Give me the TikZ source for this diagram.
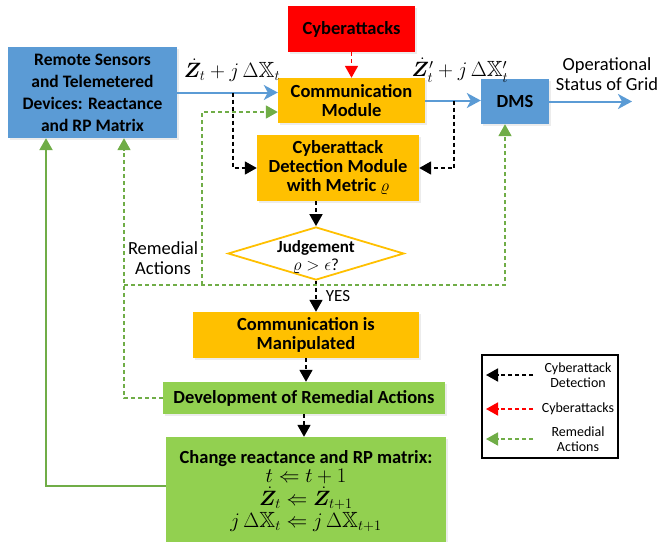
\documentclass[tikz,border=0pt]{standalone}
\usepackage{amsmath,amssymb,bm}
\usepackage{fontspec}
\setmainfont{Carlito}
\usetikzlibrary{arrows.meta,shapes.geometric,shadows}
\definecolor{sblue}{HTML}{5B9BD5}
\definecolor{sorange}{HTML}{FFC000}
\definecolor{sgreen}{HTML}{92D050}
\definecolor{lgreen}{HTML}{70AD47}
\tikzset{
  box/.style={align=center,inner sep=0pt,font=\fontsize{18.5}{19}\selectfont\bfseries,
    drop shadow={opacity=0.15,shadow xshift=1.5pt,shadow yshift=-1.5pt}},
  judge/.style={diamond,draw=sorange,line width=1.8pt,fill=white,inner sep=0pt,
    minimum width=176pt,minimum height=53pt},
  plaintext/.style={align=center,inner sep=0pt,font=\fontsize{18.5}{19.5}\selectfont},
  mathtext/.style={inner sep=0pt,font=\fontsize{22}{24}\selectfont},
  legtext/.style={align=center,inner sep=0pt,font=\fontsize{14}{15.5}\selectfont},
  blueline/.style={sblue,line width=2pt,-{Stealth[length=14pt,width=15pt,inset=4pt]}},
  blackdash/.style={black,line width=1.8pt,dash pattern=on 4pt off 3pt,-{Triangle[length=12pt,width=13pt]}},
  reddash/.style={red,line width=1.8pt,dash pattern=on 4pt off 3pt,-{Triangle[length=12pt,width=13pt]}},
  greendash/.style={lgreen,line width=1.8pt,dash pattern=on 4pt off 3pt,-{Triangle[length=12pt,width=13pt]}},
  greensolid/.style={lgreen,line width=2.2pt,-{Triangle[length=12pt,width=13pt]}}
}
\begin{document}
\begin{tikzpicture}[x=1pt,y=-1pt]
\useasboundingbox (0,0) rectangle (661,541);
\node[box,fill=sblue,minimum width=169pt,minimum height=91pt,font=\fontsize{17.5}{22}\selectfont\bfseries] (rs) at (92.5,92.5)
  {Remote Sensors\\and Telemetered\\Devices: Reactance\\and RP Matrix};
\node[box,fill=red,minimum width=127pt,minimum height=46pt] (cyber) at (351.5,29) {Cyberattacks};
\node[box,fill=sorange,minimum width=147pt,minimum height=45pt] (comm) at (351.5,100.5) {Communication\\Module};
\node[box,fill=sblue,minimum width=68pt,minimum height=45pt] (dms) at (515,101.5) {DMS};
\node[box,fill=sorange,minimum width=162pt,minimum height=66pt] (det) at (338,168)
  {Cyberattack\\Detection Module\\with Metric $\varrho$};
\node[judge,label={[align=center,inner sep=0pt,yshift=-4pt,font=\fontsize{17}{18}\selectfont]center:{\textbf{Judgement}\\$\varrho>\epsilon$?}}] (dia) at (316,253.5) {};
\node[box,fill=sorange,minimum width=226pt,minimum height=46pt] (manip) at (306,335) {Communication is\\Manipulated};
\node[box,fill=sgreen,minimum width=282pt,minimum height=32pt] (dev) at (304,398) {Development of Remedial Actions};
\node[box,fill=sgreen,minimum width=280pt,minimum height=108pt] (chg) at (306,491)
  {Change reactance and RP matrix:\\[0pt]
   \fontsize{19.5}{21}\selectfont$t\Leftarrow t+1$\\[2pt]
   \fontsize{21}{22}\selectfont$\dot{\bm{Z}}_t\Leftarrow\dot{\bm{Z}}_{t+1}$\\[2pt]
   \fontsize{22}{23}\selectfont$j\,\Delta\mathbb{X}_t\Leftarrow j\,\Delta\mathbb{X}_{t+1}$};
\node[mathtext] (zin) at (232,70) {$\dot{\bm{Z}}_t+j\,\Delta\mathbb{X}_t$};
\node[mathtext] (zout) at (460,70) {$\dot{\bm{Z}}'_t+j\,\Delta\mathbb{X}'_t$};
\node[plaintext] (opstat) at (607,74) {Operational\\Status of Grid};
\node[plaintext] (remtxt) at (163,258) {Remedial\\Actions};
\coordinate (grid) at (632,101.5);
\coordinate (tapL) at (233,92.5);
\coordinate (tapR) at (454,100.5);
\coordinate (ra) at (124,285);
\coordinate (rb) at (505,285);
\coordinate (rc) at (202,285);
\coordinate (rd) at (202,112);
\coordinate (ca) at (46,486);
\draw[blueline] (rs.east) -- (rs.east -| comm.west);
\draw[blueline] (comm.east) -- (comm.east -| dms.west);
\draw[blueline] (dms.east) -- (grid);
\draw[reddash] (cyber) -- (comm);
\draw[blackdash] (tapL) |- (det.west);
\draw[blackdash] (tapR) |- (det.east);
\draw[blackdash] (dia.north |- det.south) -- (dia.north);
\draw[blackdash] (dia.south) -- (dia.south |- manip.north)
  node[midway,right=9pt,plaintext,font=\fontsize{17}{18}\selectfont] (yes) {YES};
\draw[blackdash] (manip.south) -- (manip.south |- dev.north);
\draw[blackdash] (dev.south) -- (dev.south |- chg.north);
\draw[greendash] (dev.west) -| (rs.south -| ra);
\draw[greendash] (ra) -- (rb) -- (rb |- dms.south);
\draw[greendash] (rc) -- (rd) -- (rd -| comm.west);
\draw[greensolid] (ca -| chg.west) -- (ca) -- (ca |- rs.south);
\node[draw,line width=1.2pt,minimum width=136pt,minimum height=103pt] (leg) at (550,406.5) {};
\foreach \y/\s/\t [count=\i] in {375/blackdash/{Cyberattack\\Detection},409/reddash/{Cyberattacks},439/greendash/{Remedial\\Actions}}{
  \coordinate (la\i) at (533,\y);
  \coordinate (lb\i) at (486,\y);
  \draw[\s] (la\i) -- (lb\i);
  \node[legtext] (lt\i) at (578,\y) {\t};
}
\end{tikzpicture}
\end{document}
